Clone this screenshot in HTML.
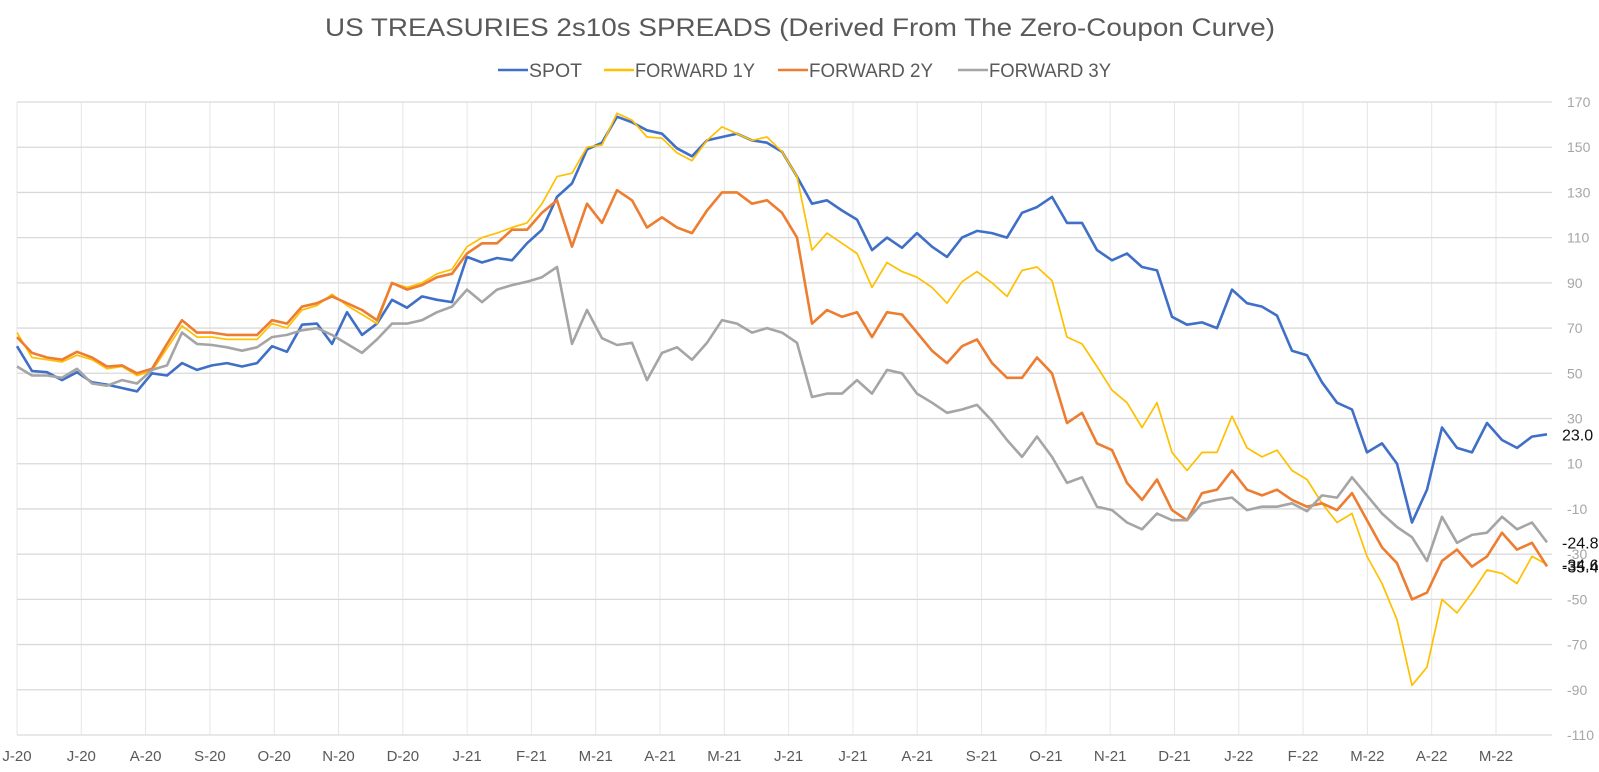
<!DOCTYPE html>
<html><head><meta charset="utf-8"><title>US Treasuries 2s10s spreads</title>
<style>
html,body{margin:0;padding:0;background:#fff;}
svg{display:block;font-family:"Liberation Sans",sans-serif;}
</style></head>
<body>
<svg id="chart" width="1599" height="772" viewBox="0 0 1599 772" xmlns="http://www.w3.org/2000/svg">
<rect x="0" y="0" width="1599" height="772" fill="#fff"/>
<text x="800" y="36" text-anchor="middle" font-size="25" fill="#595959" textLength="950" lengthAdjust="spacingAndGlyphs">US TREASURIES 2s10s SPREADS (Derived From The Zero-Coupon Curve)</text>
<g id="legend"></g>
<g id="grid"></g>
<g id="series"></g>
<g id="axes"></g>
<g id="endlabels"></g>
</svg>
<script>
const xLabels = ["J-20","J-20","A-20","S-20","O-20","N-20","D-20","J-21","F-21","M-21","A-21","M-21","J-21","J-21","A-21","S-21","O-21","N-21","D-21","J-22","F-22","M-22","A-22","M-22"];
const yTicks = [170,150,130,110,90,70,50,30,10,-10,-30,-50,-70,-90,-110];
const seriesNames = ["SPOT","FORWARD 1Y","FORWARD 2Y","FORWARD 3Y"];
const spot = [62,51,50.5,47,50.5,46,45,43.5,42,50,
49,54.5,51.5,53.5,54.5,53,54.5,62,59.5,71.5,
72,63,77,67,72,82.5,79,84,82.5,81.5,
101.5,99,101,100,107.5,113.5,128,134,149,152,
163.5,161,157.5,156,149.5,146,153,154.5,156,153,
152,148,137,125,126.5,122,118,104.5,110,105.5,
112,106,101.5,110,113,112,110,121,123.5,128,
116.5,116.5,104.5,100,103,97,95.5,75,71.5,72.5,
70,87,81,79.5,75.5,60,58,46,37,34,
15,19,10,-16,-1.5,26,17,15,28,20.5,
17,22,23];
const fwd1y = [68,57,56,55,58,56,52,53,49,51,
61,71,66,66,65,65,65,72,70,78,
80,85,80,76,72,90,88,90,94,96,
106,110,112,114.5,116.5,125,137,138.5,150,151,
165,162,154.5,154,147.5,144,153,159,156,153,
154.5,148,137,104.5,112,107.5,103,88,99,95,
92.5,88,81,90.5,95,90,84,95.5,97,91,
66,63,53,42.5,37,26,37,15,7,15,
15,31,17,13,16,7,3,-7.5,-16,-12,
-31,-43,-59,-88,-80,-50,-56,-47,-37,-38.5,
-43,-31,-34.6];
const fwd2y = [66,59,57,56,59.5,57,53,53.5,50,52,
63,73.5,68,68,67,67,67,73.5,72,79.5,
81,84,81,78,73.5,90,87,89,92.5,94,
103,107.5,107.5,113.5,113.5,121,126.5,106,125,116.5,
131,126.5,114.5,119,114.5,112,122,130,130,125,
126.5,121,110,72,78,75,77,66,77,76,
68,60,54.5,62,65,54.5,48,48,57,50,
28,32.5,19,16,1.5,-6,3,-10.5,-15,-3,
-1.5,7,-1.5,-4,-1.5,-6,-9,-7.5,-10.5,-3,
-15,-27,-34,-50,-47,-33,-28,-35.5,-31,-20.5,
-28,-25,-35.4];
const fwd3y = [53,49,49,48,52,45.5,44.5,47,45.5,51.5,
53.5,68,63,62.5,61.5,60,61.5,66,67,69,
70,67,63,59,65,72,72,73.5,77,79.5,
87,81.5,87,89,90.5,92.5,97,63,78,65.5,
62.5,63.5,47,59,61.5,56,63.5,73.5,72,68,
70,68,63.5,39.5,41,41,47,41,51.5,50,
41,37,32.5,34,36,29,20.5,13,22,13,
1.5,4,-9,-10.5,-16,-19,-12,-15,-15,-7.5,
-6,-5,-10.5,-9,-9,-7.5,-11,-4,-5,4,
-4,-12,-18,-22.5,-33,-13.5,-25,-21.5,-20.5,-13.5,
-19,-16,-24.8];
const endLabels = ["23.0","-34.6","-35.4","-24.8"];

const NS="http://www.w3.org/2000/svg";
const L=17,R=1552,T=102,B=735,YMAX=170,YMIN=-110;
const xStart=17,xEnd=1547,nPts=spot.length;
function yScale(v){return T+(YMAX-v)*(B-T)/(YMAX-YMIN);}
function xScale(i){return xStart+i*(xEnd-xStart)/(nPts-1);}
function gridX(i){return L+i*(1496-L)/(xLabels.length-1);}
function mk(tag,attrs,parent){const e=document.createElementNS(NS,tag);for(const k in attrs)e.setAttribute(k,attrs[k]);parent.appendChild(e);return e;}

const grid=document.getElementById('grid');
for(let i=0;i<xLabels.length;i++){
  const ln=mk('line',{x1:gridX(i),x2:gridX(i),y1:T,y2:B,stroke:'#e6e6e6','stroke-width':1},grid);
  
  
}
yTicks.forEach(v=>{
  const ln=mk('line',{x1:L,x2:R,y1:yScale(v),y2:yScale(v),stroke:'#d9d9d9','stroke-width':1.3},grid);
  
  
});

const axes=document.getElementById('axes');
yTicks.forEach(v=>{
  const t=mk('text',{x:1567,y:yScale(v)+5,'font-size':14,fill:'#a6a6a6'},axes);
  t.textContent=String(v);
  
  
});
xLabels.forEach((s,i)=>{
  const t=mk('text',{x:gridX(i),y:761,'font-size':15,fill:'#595959','text-anchor':'middle'},axes);
  t.textContent=s;
  
  
});

const colors=['#3f6fc6','#ffc000','#ed7d31','#a5a5a5'];
const widths=[2.6,1.7,2.6,2.6];
const all=[spot,fwd1y,fwd2y,fwd3y];
const sg=document.getElementById('series');
all.forEach((arr,k)=>{
  const d=arr.map((v,i)=>(i?'L':'M')+xScale(i).toFixed(1)+' '+yScale(v).toFixed(1)).join(' ');
  const p=mk('path',{d:d,fill:'none',stroke:colors[k],'stroke-width':widths[k],'stroke-linejoin':'round'},sg);
  
  
});

const el=document.getElementById('endlabels');
all.forEach((arr,k)=>{
  const v=arr[arr.length-1];
  const t=mk('text',{x:1562,y:yScale(v)+6,'font-size':16,fill:'#111'},el);
  t.textContent=endLabels[k];
  
  
});

const lg=document.getElementById('legend');
const legX=[[498,528,53],[604,634,120],[778,808,124],[958,988,122]];
seriesNames.forEach((n,k)=>{
  const g=mk('g',{},lg);
  
  
  mk('line',{x1:legX[k][0],x2:legX[k][1],y1:70,y2:70,stroke:colors[k],'stroke-width':2.6},g);
  const t=mk('text',{x:legX[k][1]+1,y:77,'font-size':19,fill:'#595959',textLength:legX[k][2],lengthAdjust:'spacingAndGlyphs'},g);
  t.textContent=n;
});
</script>
</body></html>
